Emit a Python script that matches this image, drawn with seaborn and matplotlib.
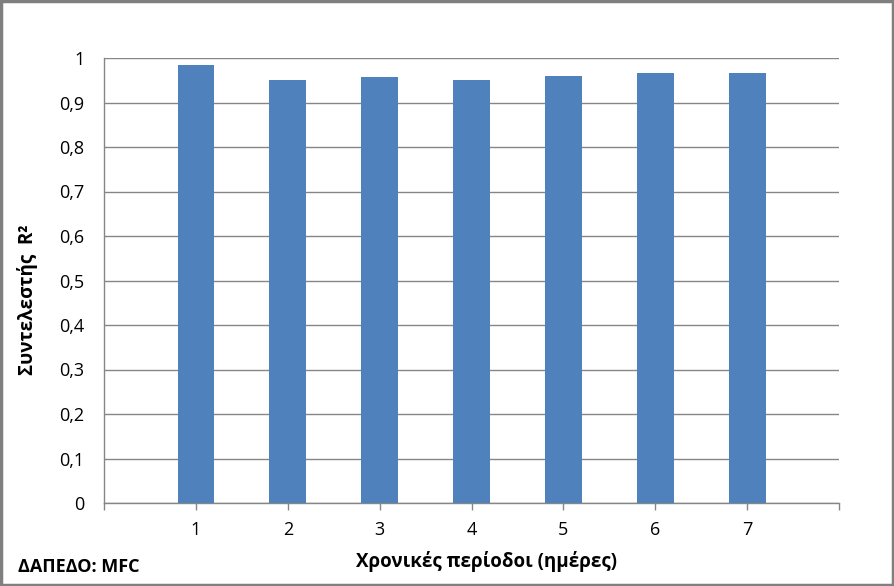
import matplotlib
matplotlib.use("Agg")
import matplotlib.pyplot as plt
import seaborn as sns
import pandas as pd
from matplotlib.patches import Rectangle

periods = [1, 2, 3, 4, 5, 6, 7]
r2_values = [0.984, 0.951, 0.957, 0.951, 0.960, 0.966, 0.966]
y_ticks = [0, 0.1, 0.2, 0.3, 0.4, 0.5, 0.6, 0.7, 0.8, 0.9, 1.0]
y_tick_labels = ["0", "0,1", "0,2", "0,3", "0,4", "0,5", "0,6", "0,7", "0,8", "0,9", "1"]
x_ticks = [0, 1, 2, 3, 4, 5, 6, 7, 8]
x_tick_labels = ["", "1", "2", "3", "4", "5", "6", "7", ""]
x_label = "Χρονικές περίοδοι (ημέρες)"
y_label = "Συντελεστής  R²"
note = "ΔΑΠΕΔΟ: MFC"

sns.set_theme(style="white")
plt.rcParams['font.family'] = ['Open Sans', 'DejaVu Sans']

df = pd.DataFrame({"period": periods, "r2": r2_values})

fig = plt.figure(figsize=(8.94, 5.86), dpi=100)
ax = fig.add_axes([104/894, 1-503/586, 735/894, 445/586])

sns.barplot(data=df, x="period", y="r2", native_scale=True, width=0.4,
            color="#4F81BD", saturation=1, ax=ax, zorder=3, linewidth=0)

ax.set_xlim(0, 8)
ax.set_ylim(0, 1)
ax.set_yticks(y_ticks)
ax.set_yticklabels(y_tick_labels)
ax.set_xticks(x_ticks)
ax.set_xticklabels(x_tick_labels)
ax.grid(axis="y", color="#868686", linewidth=1, zorder=0)
ax.grid(axis="x", visible=False)
for s in ["top", "right"]:
    ax.spines[s].set_visible(False)
for s in ["left", "bottom"]:
    ax.spines[s].set_color("#868686")
    ax.spines[s].set_linewidth(1)
ax.tick_params(axis="y", length=0, pad=14, labelsize=13, labelcolor="black")
ax.tick_params(axis="x", length=5, width=1, color="#868686", direction="out",
               pad=8, labelsize=13, labelcolor="black", bottom=True)

ax.set_xlabel(x_label, fontsize=13.5, fontweight="bold", color="black")
ax.xaxis.set_label_coords((486-104)/735, (503-561)/445)
ax.xaxis.label.set_va("center")
ax.set_ylabel(y_label, fontsize=13.5, fontweight="bold", color="black")
ax.yaxis.set_label_coords((28-104)/735, (503-300)/445)
ax.yaxis.label.set_va("center")

fig.text(18/894, 1-567/586, note, fontsize=13, fontweight="bold",
         ha="left", va="center", color="black")

fig.patches.append(Rectangle((0.0015, 0.002), 0.997, 0.9955, transform=fig.transFigure,
                             fill=False, edgecolor="#7F7F7F", linewidth=2.5))

fig.savefig("out.png", dpi=100)
